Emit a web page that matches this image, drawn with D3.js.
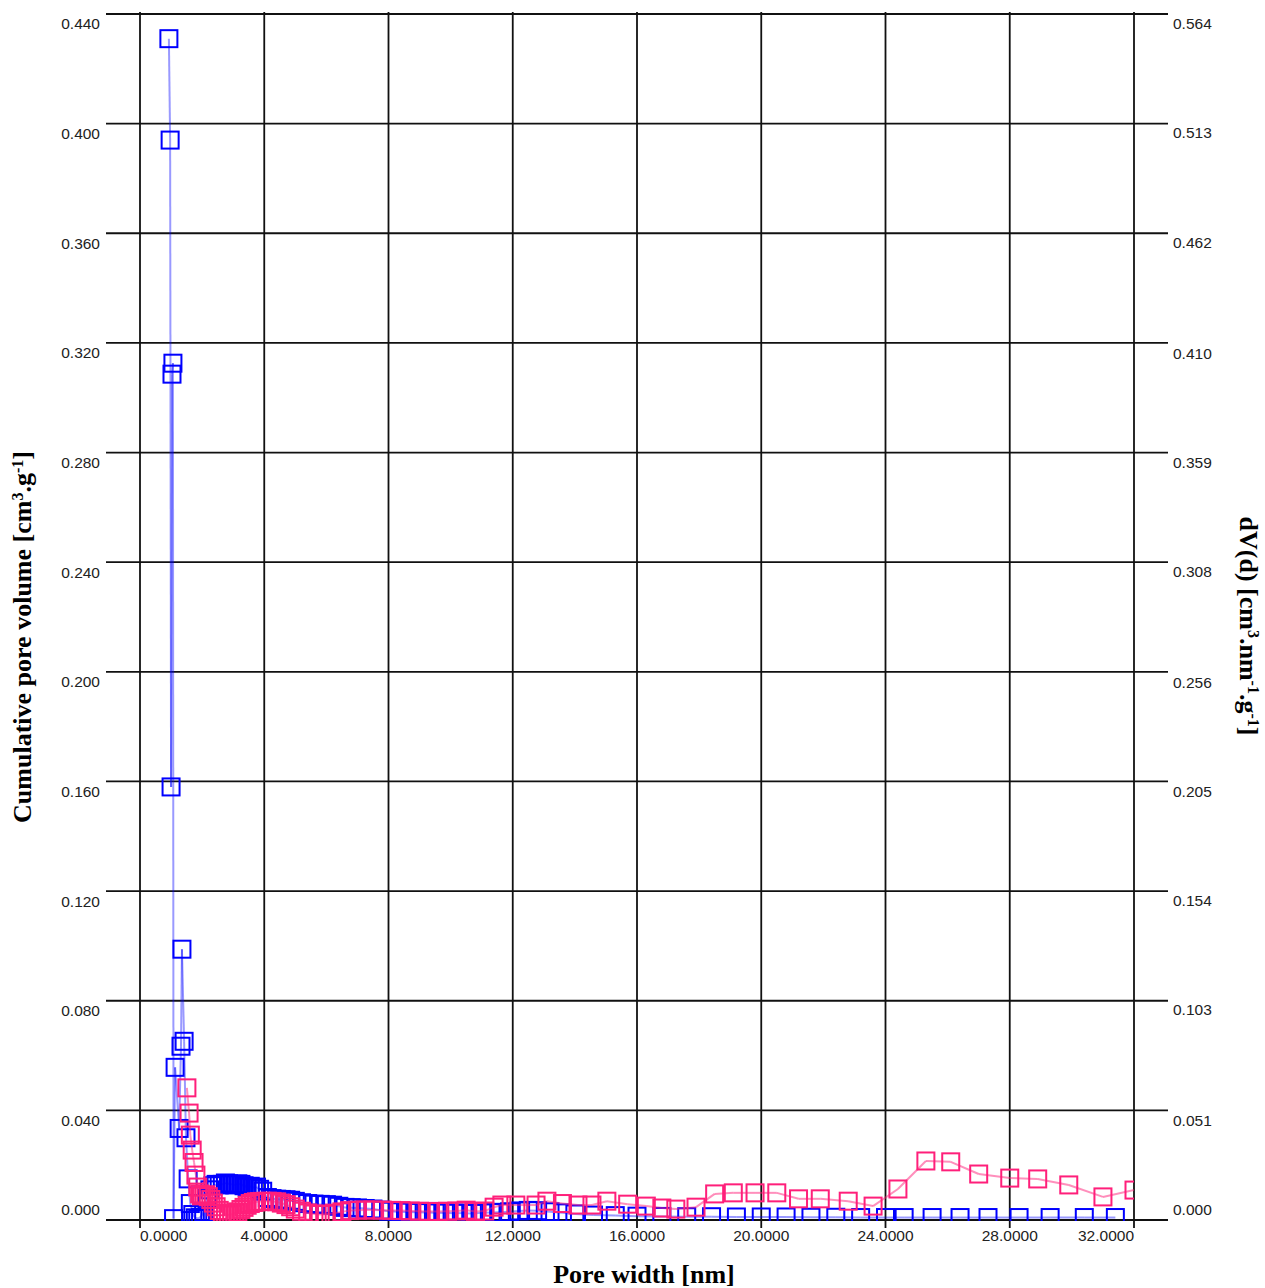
<!DOCTYPE html>
<html>
<head>
<meta charset="utf-8">
<script src="https://cdn.jsdelivr.net/npm/d3@7"></script>
<style>
  html, body { margin: 0; padding: 0; background: #fff; }
  svg text.tick { font-family: "Liberation Sans", Arial, sans-serif; }
  svg text.title { font-family: "Liberation Serif", "Times New Roman", serif; font-weight: bold; }
</style>
</head>
<body>
<svg id="chart" width="1265" height="1288"></svg>
<script>
// Pore width grid (nm) and cumulative pore volume (cm3/g) — blue series, left axis
const blueWidth = [0.93, 0.97, 1.00, 1.03, 1.06, 1.08, 1.13, 1.26, 1.32, 1.35, 1.42, 1.48, 1.55, 1.62, 1.70, 1.78, 1.86, 1.95,
  2.05, 2.15, 2.25, 2.35, 2.45, 2.55, 2.65, 2.75, 2.85, 2.95, 3.05, 3.15, 3.25, 3.35, 3.45, 3.55, 3.65, 3.75, 3.85, 3.95,
  4.10, 4.25, 4.40, 4.55, 4.70, 4.85, 5.00, 5.20, 5.40, 5.60, 5.80, 6.00, 6.20, 6.40, 6.60, 6.80, 7.00, 7.25, 7.50, 7.75,
  8.00, 8.30, 8.60, 8.90, 9.20, 9.50, 9.80, 10.1, 10.4, 10.7, 11.0, 11.3, 11.6, 11.9, 12.2, 12.5, 12.8, 13.2, 13.6, 14.0,
  14.6, 15.3, 16.0, 16.8, 17.6, 18.4, 19.2, 20.0, 20.8, 21.6, 22.4, 23.2, 24.0, 24.6, 25.5, 26.4, 27.3, 28.3, 29.3, 30.4, 31.4];
const blueVolume = [0.431, 0.394, 0.158, 0.3086, 0.3126, 0.0005, 0.0557, 0.0334, 0.0634, 0.0988, 0.0652, 0.030, 0.015, 0.006, 0.002, 0.0008, 0.0005, 0.001,
  0.003, 0.008, 0.011, 0.0125, 0.013, 0.0128, 0.013, 0.0135, 0.0132, 0.013, 0.0128, 0.0132, 0.013, 0.0125, 0.012, 0.0123, 0.0118, 0.012, 0.0112, 0.0105,
  0.0082, 0.0078, 0.0076, 0.0075, 0.0074, 0.0072, 0.0068, 0.0063, 0.0060, 0.0058, 0.0057, 0.0056, 0.0054, 0.0050, 0.0046, 0.0045, 0.0044, 0.0042, 0.0040, 0.0036,
  0.0032, 0.0030, 0.0029, 0.0028, 0.0027, 0.0026, 0.0026, 0.0025, 0.0025, 0.0024, 0.0026, 0.0027, 0.0028, 0.0030, 0.0033, 0.0035, 0.0034, 0.0030, 0.0026, 0.0022,
  0.0018, 0.0016, 0.0014, 0.0013, 0.0012, 0.0012, 0.0011, 0.0011, 0.0011, 0.0010, 0.0010, 0.0009, 0.0009, 0.0009, 0.0009, 0.0009, 0.0009, 0.0009, 0.0009, 0.0009, 0.0009];

// Differential pore volume dV(d) (cm3/nm/g) — pink series, right axis
const pinkWidth = [1.51, 1.58, 1.62, 1.68, 1.74, 1.80, 1.86, 1.92, 1.98, 2.05, 2.12, 2.20, 2.28, 2.36, 2.45, 2.55, 2.65, 2.75, 2.85, 2.95,
  3.05, 3.15, 3.25, 3.35, 3.45, 3.55, 3.65, 3.75, 3.85, 3.95, 4.10, 4.25, 4.40, 4.55, 4.70, 4.85, 5.00, 5.20, 5.40, 5.60, 5.80,
  6.00, 6.25, 6.50, 6.75, 7.00, 7.25, 7.50, 7.80, 8.10, 8.40, 8.70, 9.00, 9.30, 9.60, 9.90, 10.2, 10.5, 10.8, 11.1, 11.4, 11.65,
  12.1, 12.75, 13.1, 13.6, 14.1, 14.55, 15.03, 15.7, 16.3, 16.8, 17.25, 17.9, 18.5, 19.1, 19.8, 20.5, 21.2, 21.9, 22.8, 23.6,
  24.4, 25.3, 26.1, 27.0, 28.0, 28.9, 29.9, 31.0, 32.0];
const pinkDV = [0.0618, 0.0500, 0.0397, 0.0327, 0.0269, 0.0210, 0.0154, 0.0122, 0.0113, 0.0115, 0.0118, 0.0109, 0.0096, 0.0079, 0.0062, 0.0045, 0.0033, 0.0026, 0.0023, 0.0026,
  0.0032, 0.0038, 0.0049, 0.0059, 0.0069, 0.0077, 0.0082, 0.0085, 0.0086, 0.0087, 0.0088, 0.0087, 0.0085, 0.0079, 0.0072, 0.0062, 0.0051, 0.0041, 0.0033, 0.0028, 0.0026,
  0.0027, 0.0032, 0.0038, 0.0044, 0.0046, 0.0047, 0.0047, 0.0046, 0.0045, 0.0044, 0.0042, 0.0041, 0.0040, 0.0040, 0.0041, 0.0042, 0.0046, 0.0040, 0.0042, 0.0060, 0.0070,
  0.0070, 0.0070, 0.0088, 0.0077, 0.0070, 0.0070, 0.0088, 0.0074, 0.0065, 0.0056, 0.0051, 0.0060, 0.0122, 0.0127, 0.0127, 0.0127, 0.0099, 0.0099, 0.0088, 0.0065,
  0.0145, 0.0276, 0.0272, 0.0215, 0.0196, 0.0192, 0.0164, 0.0108, 0.0140];

// Axis ticks
const xTicks = [0, 4, 8, 12, 16, 20, 24, 28, 32];
const leftTicks = [0, 0.04, 0.08, 0.12, 0.16, 0.20, 0.24, 0.28, 0.32, 0.36, 0.40, 0.44];
const rightTickLabels = ["0.000", "0.051", "0.103", "0.154", "0.205", "0.256", "0.308", "0.359", "0.410", "0.462", "0.513", "0.564"];

const svg = d3.select("#chart");
const x = d3.scaleLinear().domain([0, 32]).range([140, 1134]);
const yL = d3.scaleLinear().domain([0, 0.44]).range([1220, 14]);
const yR = d3.scaleLinear().domain([0, 0.564]).range([1220, 14]);

const gridColor = "#111";
const grid = svg.append("g");

// horizontal grid lines, extending past the plot on both sides
grid.selectAll("line.h").data(leftTicks).join("line")
  .attr("x1", x(0) - 34).attr("x2", x(32) + 34)
  .attr("y1", d => yL(d)).attr("y2", d => yL(d))
  .attr("stroke", gridColor).attr("stroke-width", 1.8);

// vertical grid lines with small ticks below the axis
grid.selectAll("line.v").data(xTicks).join("line")
  .attr("x1", d => x(d)).attr("x2", d => x(d))
  .attr("y1", yL(0.44) - 2).attr("y2", yL(0) + 8)
  .attr("stroke", gridColor).attr("stroke-width", 1.8);

// left tick labels
svg.append("g").selectAll("text").data(leftTicks).join("text")
  .attr("class", "tick")
  .attr("x", 100)
  .attr("y", d => yL(d) + (d === 0 ? -10 : 10))
  .attr("dy", "0.35em")
  .attr("text-anchor", "end")
  .attr("font-size", 15.5).attr("fill", "#222")
  .text(d => d3.format(".3f")(d));

// right tick labels
svg.append("g").selectAll("text").data(rightTickLabels).join("text")
  .attr("class", "tick")
  .attr("x", 1173)
  .attr("y", d => yR(+d) + (+d === 0 ? -10 : 10))
  .attr("dy", "0.35em")
  .attr("text-anchor", "start")
  .attr("font-size", 15.5).attr("fill", "#222")
  .text(d => d);

// bottom tick labels (end labels kept inside the frame)
svg.append("g").selectAll("text").data(xTicks).join("text")
  .attr("class", "tick")
  .attr("x", d => x(d))
  .attr("y", 1236)
  .attr("dy", "0.35em")
  .attr("text-anchor", (d, i) => i === 0 ? "start" : (i === xTicks.length - 1 ? "end" : "middle"))
  .attr("font-size", 15.5).attr("fill", "#222")
  .text(d => d3.format(".4f")(d));

// axis titles
svg.append("text")
  .attr("class", "title")
  .attr("x", 644).attr("y", 1283)
  .attr("text-anchor", "middle")
  .attr("font-size", 26)
  .attr("fill", "#000")
  .text("Pore width [nm]");

function supTitle(g, parts) {
  parts.forEach(p => {
    const t = g.append("tspan").text(p.t);
    if (p.sup) t.attr("baseline-shift", "super").attr("font-size", 16);
  });
}

const lt = svg.append("text")
  .attr("class", "title")
  .attr("transform", "translate(31,637) rotate(-90)")
  .attr("text-anchor", "middle")
  .attr("font-size", 26)
  .attr("fill", "#000");
supTitle(lt, [{t: "Cumulative pore volume [cm"}, {t: "3", sup: true}, {t: ".g"}, {t: "-1", sup: true}, {t: "]"}]);

const rt = svg.append("text")
  .attr("class", "title")
  .attr("transform", "translate(1240,626) rotate(90)")
  .attr("text-anchor", "middle")
  .attr("font-size", 26)
  .attr("fill", "#000");
supTitle(rt, [{t: "dV(d) [cm"}, {t: "3", sup: true}, {t: ".nm"}, {t: "-1", sup: true}, {t: ".g"}, {t: "-1", sup: true}, {t: "]"}]);

// plotting area clip
svg.append("defs").append("clipPath").attr("id", "plotClip")
  .append("rect").attr("x", x(0)).attr("y", 0).attr("width", x(32) - x(0)).attr("height", yL(0) + 1);

const plot = svg.append("g").attr("clip-path", "url(#plotClip)");
const size = 17;

function drawSeries(xs, ys, yScale, color, lineOpacity) {
  const pts = xs.map((d, i) => [x(d), yScale(ys[i])]);
  const g = plot.append("g");
  // line drawn segment by segment so overlapping strokes deepen the tint
  g.selectAll("line").data(pts.slice(1)).join("line")
    .attr("x1", (d, i) => pts[i][0]).attr("y1", (d, i) => pts[i][1])
    .attr("x2", d => d[0]).attr("y2", d => d[1])
    .attr("stroke", color).attr("stroke-width", 2).attr("stroke-opacity", lineOpacity);
  g.selectAll("rect").data(pts).join("rect")
    .attr("x", d => d[0] - size / 2).attr("y", d => d[1] - size / 2)
    .attr("width", size).attr("height", size)
    .attr("fill", "none").attr("stroke", color).attr("stroke-width", 2);
}

drawSeries(blueWidth, blueVolume, yL, "#0000ff", 0.4);
drawSeries(pinkWidth, pinkDV, yR, "#ff1f7a", 0.5);
</script>
</body>
</html>
